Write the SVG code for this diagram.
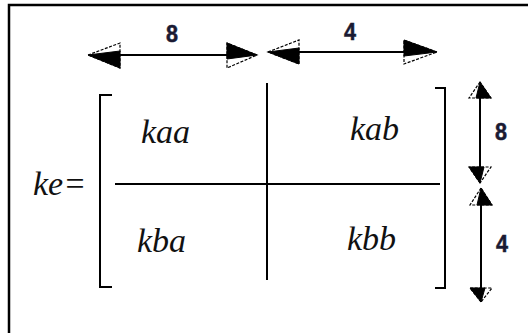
<svg xmlns="http://www.w3.org/2000/svg" width="528" height="333" viewBox="0 0 528 333">
<style>
.ln{stroke:#000;stroke-width:2;fill:none}
.hw{fill:#fff;stroke:#000;stroke-width:1.2;stroke-dasharray:3 1.5}
.hb{fill:#000;stroke:#000;stroke-width:1}
.m{font-family:"Liberation Serif",serif;font-style:italic;font-size:34px;fill:#111}
.n{font-family:"Liberation Sans",sans-serif;font-weight:bold;font-size:23px;fill:#1a1a33;stroke:#1a1a33;stroke-width:0.5}
</style>
<rect x="0" y="0" width="528" height="333" fill="#fff"/>
<path d="M9 333 V5 H528" stroke="#000" stroke-width="2.5" fill="none"/>
<g id="matrix">
  <path class="ln" d="M112 95 H100 V287 H112"/>
  <path class="ln" d="M435 88 H445 V288 H435"/>
  <line class="ln" x1="115" y1="184" x2="440" y2="184"/>
  <line class="ln" x1="267" y1="83" x2="267" y2="280"/>
</g>
<g id="labels">
  <text class="m" x="33" y="195">ke=</text>
  <text class="m" x="141" y="143">kaa</text>
  <text class="m" x="350" y="140">kab</text>
  <text class="m" x="137" y="252">kba</text>
  <text class="m" x="347" y="250">kbb</text>
</g>
<g id="connectors">
  <g id="dim-top-8">
    <line class="ln" x1="110" y1="55" x2="237" y2="55"/>
    <polygon class="hw" points="88,55 120,43 120,68"/>
    <polygon class="hb" points="88,55 120,51 120,68"/>
    <polygon class="hw" points="257,55 227,43 227,68"/>
    <polygon class="hb" points="257,55 227,43 227,59"/>
    <text class="n" x="166" y="42" textLength="12" lengthAdjust="spacingAndGlyphs">8</text>
  </g>
  <g id="dim-top-4">
    <line class="ln" x1="290" y1="52" x2="414" y2="52"/>
    <polygon class="hw" points="268,52 299,40 299,64"/>
    <polygon class="hb" points="268,52 299,48 299,64"/>
    <polygon class="hw" points="437,52 404,40 404,64"/>
    <polygon class="hb" points="437,52 404,40 404,56"/>
    <text class="n" x="344" y="40" textLength="12" lengthAdjust="spacingAndGlyphs">4</text>
  </g>
  <g id="dim-right-8">
    <line class="ln" x1="480" y1="92" x2="480" y2="172"/>
    <polygon class="hw" points="480,82 469,98 491,98"/>
    <polygon class="hb" points="480,82 476,98 491,98"/>
    <polygon class="hw" points="480,183 469,167 491,167"/>
    <polygon class="hb" points="480,183 469,167 484,167"/>
    <text class="n" x="495" y="140" textLength="12" lengthAdjust="spacingAndGlyphs">8</text>
  </g>
  <g id="dim-right-4">
    <line class="ln" x1="481" y1="198" x2="481" y2="292"/>
    <polygon class="hw" points="481,188 470,205 492,205"/>
    <polygon class="hb" points="481,188 477,205 492,205"/>
    <polygon class="hw" points="481,302 470,288 492,288"/>
    <polygon class="hb" points="481,302 470,288 485,288"/>
    <text class="n" x="496" y="252" textLength="12" lengthAdjust="spacingAndGlyphs">4</text>
  </g>
</g>
</svg>
